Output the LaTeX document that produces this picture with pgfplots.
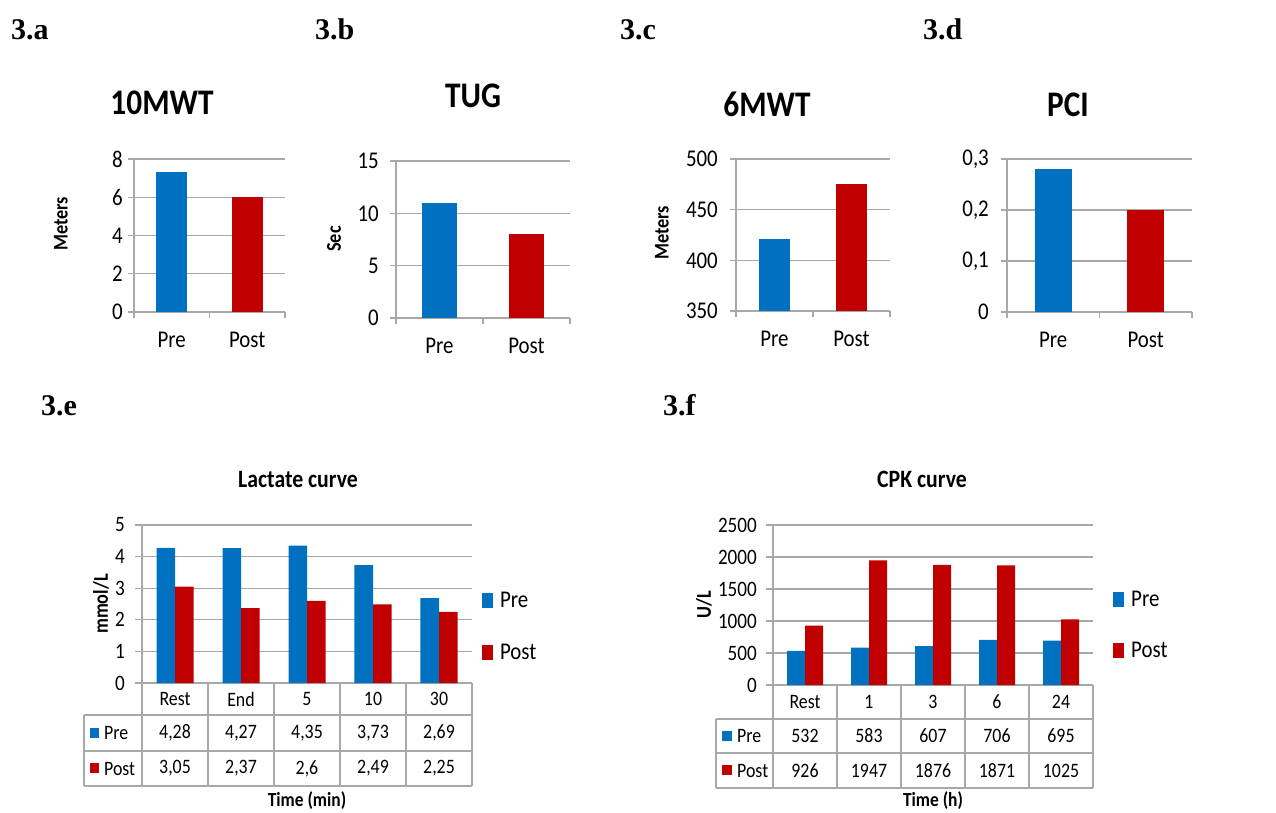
\documentclass[border=0pt]{standalone}
\usepackage{fontspec}
\setmainfont{Carlito}[FakeStretch=0.87]
\newfontfamily\tnr{Liberation Serif}
\usepackage{pgfplots}
\pgfplotsset{compat=1.18}
\definecolor{preblue}{RGB}{0,112,192}
\definecolor{postred}{RGB}{192,0,0}
\definecolor{gridgray}{RGB}{168,168,168}
\newcommand\fs[1]{\fontsize{#1}{#1}\selectfont}
\pgfkeys{/pgf/number format/assume math mode=true, /pgf/number format/1000 sep={}}
\pgfplotsset{
  base/.style={scale only axis, anchor=south west,
    axis x line*=bottom, axis y line*=left, axis line style={draw=gridgray, line width=1.3pt, -},
    ymajorgrids, grid style={gridgray, line width=1.3pt},
    tick style={gridgray, line width=1.3pt}, tick align=outside,
    ymin=0},
  top/.style={base, major tick length=6pt,
    xmin=0, xmax=2, xtick={0,1,2}, xticklabels={,,},
    extra x ticks={0.5,1.5}, extra x tick labels={Pre,Post},
    extra x tick style={major tick length=0pt, grid=none},
    tick label style={font=\fs{24}},
    xticklabel style={anchor=base, yshift=-35pt},
    yticklabel style={anchor=east, inner sep=0pt}},
  bottom/.style={base, major tick length=7pt,
    xmin=0, xmax=5, xtick=\empty,
    tick label style={font=\fs{22}},
    yticklabel style={anchor=east, inner sep=0pt},
    legend cell align=left,
    legend image code/.code={\fill[##1] (0pt,-7.5pt) rectangle (11pt,7.5pt);},
    legend style={draw=none, fill=none, inner sep=0pt, font=\fs{24},
      row sep=35pt, column sep=7pt, nodes={inner sep=0pt}}},
}
\begin{document}
\begin{tikzpicture}
\path[use as bounding box] (0pt,0pt) rectangle (1276pt,-813pt);

% panel labels
\foreach \t/\x/\y in {3.a/11/40, 3.b/315/40, 3.c/620/40, 3.d/923/40, 3.e/41/415, 3.f/663/415}
  \node[anchor=base west, inner sep=0pt, font=\tnr\bfseries\fs{30}] at (\x pt,-\y pt) {\t};

% ---------- 3.a
\begin{axis}[top, at={(134pt,-312pt)}, width=151pt, height=153pt,
  ymax=8, ytick={0,2,4,6,8}, yticklabel style={xshift=-5pt}]
\addplot[ybar, bar width=31pt, bar shift=0pt, fill=preblue, draw=none] coordinates {(0.5,7.3)};
\addplot[ybar, bar width=31pt, bar shift=0pt, fill=postred, draw=none] coordinates {(1.5,6.0)};
\end{axis}
% ---------- 3.b
\begin{axis}[top, at={(396pt,-318pt)}, width=174pt, height=157pt,
  ymax=15, ytick={0,5,10,15}, yticklabel style={xshift=-11pt}]
\addplot[ybar, bar width=35pt, bar shift=0pt, fill=preblue, draw=none] coordinates {(0.5,11)};
\addplot[ybar, bar width=35pt, bar shift=0pt, fill=postred, draw=none] coordinates {(1.5,8)};
\end{axis}
% ---------- 3.c
\begin{axis}[top, at={(736pt,-311pt)}, width=154pt, height=152pt,
  ymin=350, ymax=500, ytick={350,400,450,500}, yticklabel style={xshift=-12pt}]
\addplot[ybar, bar width=31pt, bar shift=0pt, fill=preblue, draw=none] coordinates {(0.5,421)};
\addplot[ybar, bar width=31pt, bar shift=0pt, fill=postred, draw=none] coordinates {(1.5,475)};
\end{axis}
% ---------- 3.d
\begin{axis}[top, at={(1007pt,-312pt)}, width=185pt, height=153pt,
  ymax=0.3, ytick={0,0.1,0.2,0.3},
  yticklabel style={xshift=-12pt, /pgf/number format/.cd, use comma, fixed, precision=1}]
\addplot[ybar, bar width=37pt, bar shift=0pt, fill=preblue, draw=none] coordinates {(0.5,0.28)};
\addplot[ybar, bar width=37pt, bar shift=0pt, fill=postred, draw=none] coordinates {(1.5,0.2)};
\end{axis}

% titles and y labels top
\node[anchor=base, inner sep=0pt, font=\bfseries\fs{36}] at (162pt,-115pt) {10MWT};
\node[anchor=base, inner sep=0pt, font=\bfseries\fs{36}] at (473pt,-108pt) {TUG};
\node[anchor=base, inner sep=0pt, font=\bfseries\fs{36}] at (767pt,-117pt) {6MWT};
\node[anchor=base, inner sep=0pt, font=\bfseries\fs{36}] at (1068pt,-117pt) {PCI};
\node[rotate=90, inner sep=0pt, font=\bfseries\fs{21}] at (61pt,-224pt) {Meters};
\node[rotate=90, inner sep=0pt, font=\bfseries\fs{21}] at (334pt,-239pt) {Sec};
\node[rotate=90, inner sep=0pt, font=\bfseries\fs{21}] at (662pt,-233pt) {Meters};

% ---------- 3.e
\begin{axis}[bottom, at={(142pt,-683pt)}, width=330pt, height=158pt,
  ymax=5, ytick={0,1,2,3,4,5}, yticklabel style={xshift=-10pt},
  legend style={at={(1.03,0.358)}, anchor=west}]
\addplot[ybar, bar width=18.5pt, bar shift=-9.25pt, fill=preblue, draw=none]
  coordinates {(0.5,4.28) (1.5,4.27) (2.5,4.35) (3.5,3.73) (4.5,2.69)};
\addplot[ybar, bar width=18.5pt, bar shift=9.25pt, fill=postred, draw=none]
  coordinates {(0.5,3.05) (1.5,2.37) (2.5,2.6) (3.5,2.49) (4.5,2.25)};
\legend{Pre,Post}
\end{axis}
% ---------- 3.f
\begin{axis}[bottom, at={(773pt,-685pt)}, width=320pt, height=160pt,
  ymax=2500, ytick={0,500,1000,1500,2000,2500}, yticklabel style={xshift=-9pt},
  legend style={at={(1.0625,0.375)}, anchor=west}]
\addplot[ybar, bar width=18pt, bar shift=-9pt, fill=preblue, draw=none]
  coordinates {(0.5,532) (1.5,583) (2.5,607) (3.5,706) (4.5,695)};
\addplot[ybar, bar width=18pt, bar shift=9pt, fill=postred, draw=none]
  coordinates {(0.5,926) (1.5,1947) (2.5,1876) (3.5,1871) (4.5,1025)};
\legend{Pre,Post}
\end{axis}

% titles / labels bottom
\node[anchor=base, inner sep=0pt, font=\bfseries\fs{25}] at (298pt,-487pt) {Lactate curve};
\node[anchor=base, inner sep=0pt, font=\bfseries\fs{25}] at (922pt,-487pt) {CPK curve};
\node[rotate=90, inner sep=0pt, font=\bfseries\fs{21}] at (101pt,-604pt) {mmol/L};
\node[rotate=90, inner sep=0pt, font=\bfseries\fs{21}] at (704pt,-605pt) {U/L};
\node[inner sep=0pt, font=\bfseries\fs{20}] at (307pt,-801pt) {Time (min)};
\node[inner sep=0pt, font=\bfseries\fs{20}] at (933pt,-801pt) {Time (h)};

% data tables
\begin{scope}[draw=gridgray, line width=1.3pt]
  % lactate
  \foreach \i in {0,...,5} \draw (142pt+66pt*\i,-683pt) -- (142pt+66pt*\i,-786pt);
  \draw (84pt,-715pt) -- (84pt,-786pt);
  \foreach \y in {715,751,786} \draw (84pt,-\y pt) -- (472pt,-\y pt);
  % cpk
  \foreach \i in {0,...,5} \draw (773pt+64pt*\i,-685pt) -- (773pt+64pt*\i,-788pt);
  \draw (716pt,-719pt) -- (716pt,-788pt);
  \foreach \y in {719,753,788} \draw (716pt,-\y pt) -- (1093pt,-\y pt);
\end{scope}
\begin{scope}[every node/.style={inner sep=0pt, font=\fs{20.5}}]
  \foreach \t [count=\i from 0] in {Rest,End,5,10,30} \node at (175pt+66pt*\i,-699pt) {\t};
  \foreach \t [count=\i from 0] in {{4,28},{4,27},{4,35},{3,73},{2,69}} \node at (175pt+66pt*\i,-733pt) {\t};
  \foreach \t [count=\i from 0] in {{3,05},{2,37},{2,6},{2,49},{2,25}} \node at (175pt+66pt*\i,-768.5pt) {\t};
  \fill[preblue] (90pt,-728pt) rectangle (99pt,-738pt);
  \fill[postred] (90pt,-763pt) rectangle (99pt,-773pt);
  \node[anchor=west] at (104pt,-733pt) {Pre};
  \node[anchor=west] at (104pt,-768.5pt) {Post};
  \foreach \t [count=\i from 0] in {Rest,1,3,6,24} \node at (805pt+64pt*\i,-702pt) {\t};
  \foreach \t [count=\i from 0] in {532,583,607,706,695} \node at (805pt+64pt*\i,-736pt) {\t};
  \foreach \t [count=\i from 0] in {926,1947,1876,1871,1025} \node at (805pt+64pt*\i,-770.5pt) {\t};
  \fill[preblue] (722pt,-731pt) rectangle (732pt,-741pt);
  \fill[postred] (722pt,-765pt) rectangle (732pt,-775pt);
  \node[anchor=west] at (737pt,-736pt) {Pre};
  \node[anchor=west] at (737pt,-770.5pt) {Post};
\end{scope}
\end{tikzpicture}
\end{document}
